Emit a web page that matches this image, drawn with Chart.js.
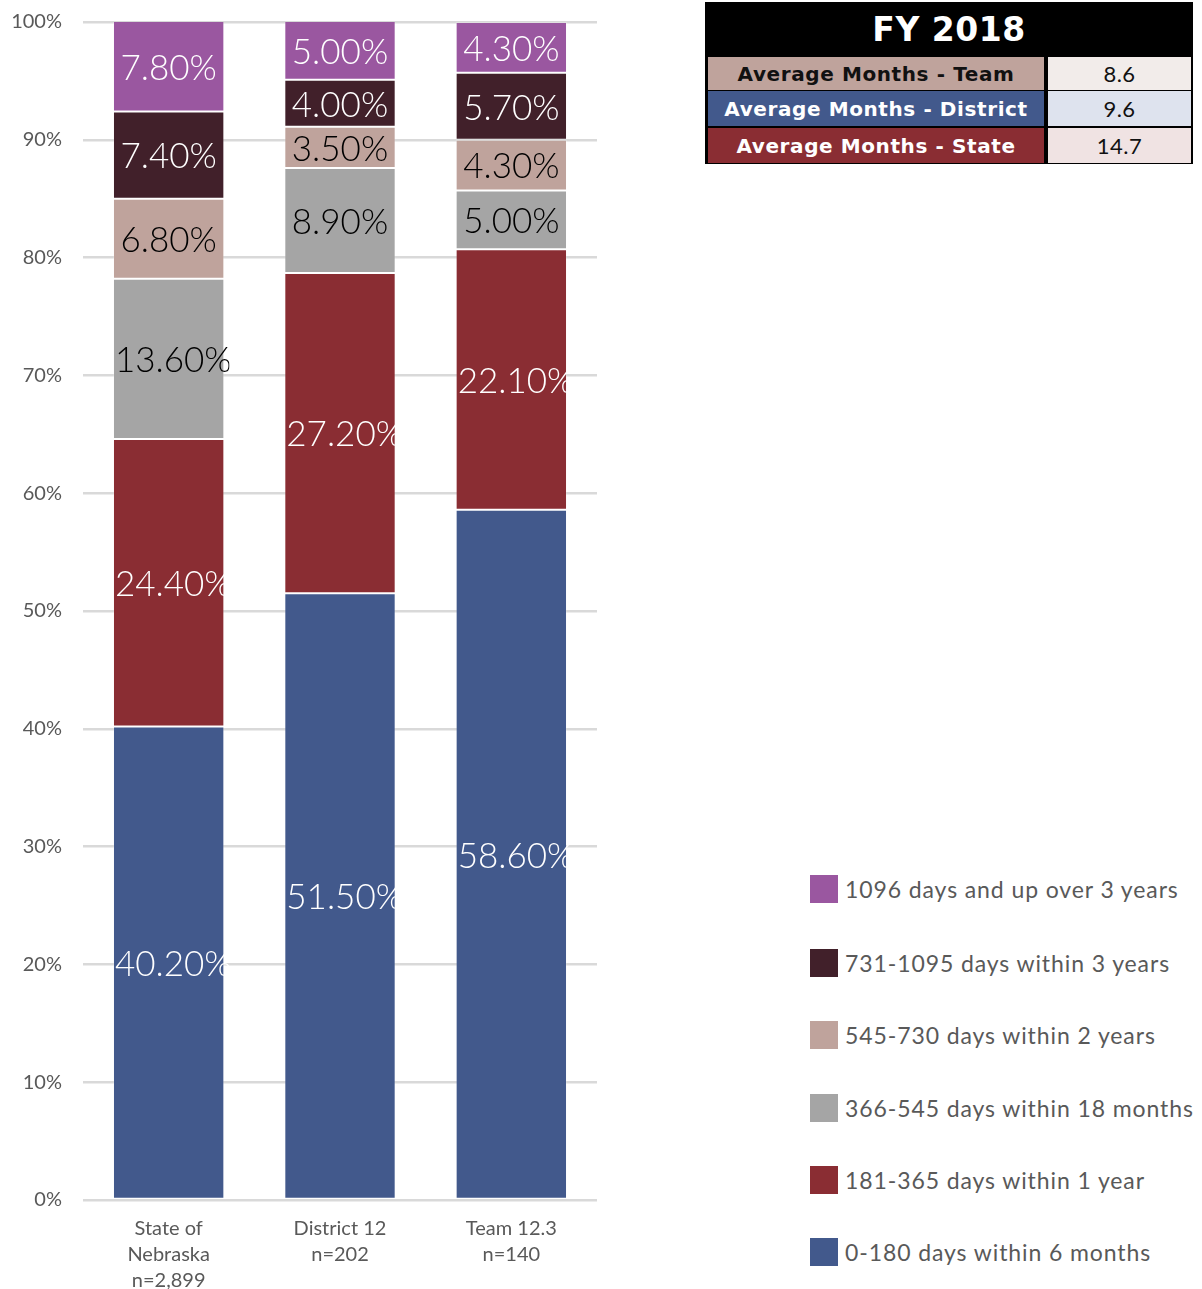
<!DOCTYPE html>
<html><head><meta charset="utf-8">
<script src="https://cdn.jsdelivr.net/npm/chart.js@4/dist/chart.umd.min.js"></script>
<style>
html,body{margin:0;padding:0;background:#fff;width:1202px;height:1289px;overflow:hidden;font-family:Lato,"DejaVu Sans",sans-serif;}
#wrap{position:absolute;left:0;top:-11px;width:620px;height:1300px;}
#tbl{position:absolute;left:705px;top:2px;width:488px;height:162px;background:#000;}
#tbl .hdr{position:absolute;left:0;top:0;width:488px;height:54px;line-height:56px;text-align:center;color:#fff;font-family:"DejaVu Sans",sans-serif;font-weight:bold;font-size:33px;letter-spacing:0.5px;}
#tbl .row{position:absolute;left:3px;width:484px;}
#tbl .l{position:absolute;left:0;top:0;width:336px;height:100%;text-align:center;font-family:"DejaVu Sans",sans-serif;font-weight:bold;font-size:20px;letter-spacing:0.6px;display:flex;align-items:center;justify-content:center;}
#tbl .r{position:absolute;left:340px;top:0;width:143px;height:100%;text-align:center;font-size:22px;letter-spacing:0.5px;color:#111;display:flex;align-items:center;justify-content:center;}
#legend{position:absolute;left:0;top:0;}
.li{position:absolute;left:810px;height:30px;display:flex;align-items:center;font-size:23px;letter-spacing:0.9px;color:#595959;white-space:nowrap;}
.li .sw{width:28px;height:28px;margin-right:7px;}
</style></head>
<body>
<div id="wrap"><canvas id="c" width="620" height="1300"></canvas></div>
<div id="tbl"></div>
<div id="legend"></div>
<script>
const categories = [["State of","Nebraska","n=2,899"],["District 12","n=202"],["Team 12.3","n=140"]];
const seriesNames = ["0-180 days within 6 months","181-365 days within 1 year","366-545 days within 18 months","545-730 days within 2 years","731-1095 days within 3 years","1096 days and up over 3 years"];
const within6Months = [40.2, 51.5, 58.6];
const within1Year = [24.4, 27.2, 22.1];
const within18Months = [13.6, 8.9, 5.0];
const within2Years = [6.8, 3.5, 4.3];
const within3Years = [7.4, 4.0, 5.7];
const over3Years = [7.8, 5.0, 4.3];
const yTicks = [0,10,20,30,40,50,60,70,80,90,100];
const tableTitle = "FY 2018";
const tableLabels = ["Average Months - Team","Average Months - District","Average Months - State"];
const tableValues = ["8.6","9.6","14.7"];

const seriesData = [within6Months, within1Year, within18Months, within2Years, within3Years, over3Years];
const colors = ["#42598C","#8A2D33","#A5A5A5","#BFA39C","#41202A","#9A57A0"];
const labelColors = ["#fff","#fff","#000","#000","#fff","#fff"];

const valueLabels = {
  id:'valueLabels',
  afterDatasetsDraw(chart){
    const ctx = chart.ctx;
    const area = chart.chartArea;
    ctx.save();
    ctx.font = '300 35px Lato, "DejaVu Sans", sans-serif';
    ctx.textBaseline = 'middle';
    chart.data.datasets.forEach((ds, di) => {
      const meta = chart.getDatasetMeta(di);
      meta.data.forEach((bar, i) => {
        const v = ds.data[i];
        const txt = v.toFixed(2) + '%';
        const top = Math.max(bar.y, area.top);
        const bottom = Math.min(bar.base, area.bottom);
        const cy = (top + bottom) / 2 + 2;
        const left = bar.x - bar.width / 2;
        const w = ctx.measureText(txt).width;
        ctx.save();
        ctx.beginPath();
        ctx.rect(left, top, bar.width + 5, bottom - top + 20);
        ctx.clip();
        ctx.fillStyle = labelColors[di];
        if (w > bar.width - 4) { ctx.textAlign = 'left'; ctx.fillText(txt, left + 2, cy); }
        else { ctx.textAlign = 'center'; ctx.fillText(txt, bar.x, cy); }
        ctx.restore();
      });
    });
    ctx.restore();
  }
};

new Chart(document.getElementById('c'), {
  type: 'bar',
  data: {
    labels: categories,
    datasets: seriesData.map((d, i) => ({
      label: seriesNames[i], data: d, backgroundColor: colors[i],
      borderColor: 'rgba(255,255,255,0.22)', borderWidth: 1, borderSkipped: false,
      categoryPercentage: 1.0, barPercentage: 0.65
    }))
  },
  options: {
    responsive: false, animation: false,
    layout: { padding: { top: 11, right: 23, left: 0, bottom: 0 } },
    plugins: { legend: { display: false }, tooltip: { enabled: false } },
    scales: {
      x: {
        stacked: true,
        grid: { display: false },
        border: { display: false },
        ticks: { color: '#595959', font: { family: 'Lato, "DejaVu Sans", sans-serif', size: 20, lineHeight: 1.3 }, padding: 8, maxRotation: 0, autoSkip: false },
        afterFit(s){ s.height = 89; }
      },
      y: {
        stacked: true, min: 0, max: 100,
        afterBuildTicks(s){ s.ticks = yTicks.map(v => ({ value: v })); },
        grid: { color: '#D9D9D9', lineWidth: 2.5, drawTicks: false },
        border: { display: false },
        ticks: { color: '#595959', font: { family: 'Lato, "DejaVu Sans", sans-serif', size: 20 }, padding: 21, callback: v => v + '%' },
        afterFit(s){ s.width = 83; }
      }
    }
  },
  plugins: [valueLabels]
});

// Table
const tbl = document.getElementById('tbl');
const hdr = document.createElement('div'); hdr.className = 'hdr'; hdr.textContent = tableTitle; tbl.appendChild(hdr);
const rowBg = ["#BFA39C","#42598C","#8A2D33"], rowFg = ["#111","#fff","#fff"], valBg = ["#F2ECEA","#DEE3EE","#F0E3E3"];
const rowTop = [55, 89, 126], rowH = [33, 35, 35];
tableLabels.forEach((t, i) => {
  const r = document.createElement('div'); r.className = 'row'; r.style.top = rowTop[i] + 'px'; r.style.height = rowH[i] + 'px';
  const l = document.createElement('div'); l.className = 'l'; l.style.background = rowBg[i]; l.style.color = rowFg[i]; l.textContent = t;
  const v = document.createElement('div'); v.className = 'r'; v.style.background = valBg[i]; v.textContent = tableValues[i];
  r.appendChild(l); r.appendChild(v); tbl.appendChild(r);
});

// Legend (reversed)
const lg = document.getElementById('legend');
const legendY = [889, 963, 1035, 1108, 1180, 1252];
for (let k = 0; k < seriesNames.length; k++) {
  const i = seriesNames.length - 1 - k;
  const it = document.createElement('div'); it.className = 'li'; it.style.top = (legendY[k] - 15) + 'px';
  const sw = document.createElement('div'); sw.className = 'sw'; sw.style.background = colors[i];
  const tx = document.createElement('span'); tx.textContent = seriesNames[i];
  it.appendChild(sw); it.appendChild(tx); lg.appendChild(it);
}
</script>
</body></html>
